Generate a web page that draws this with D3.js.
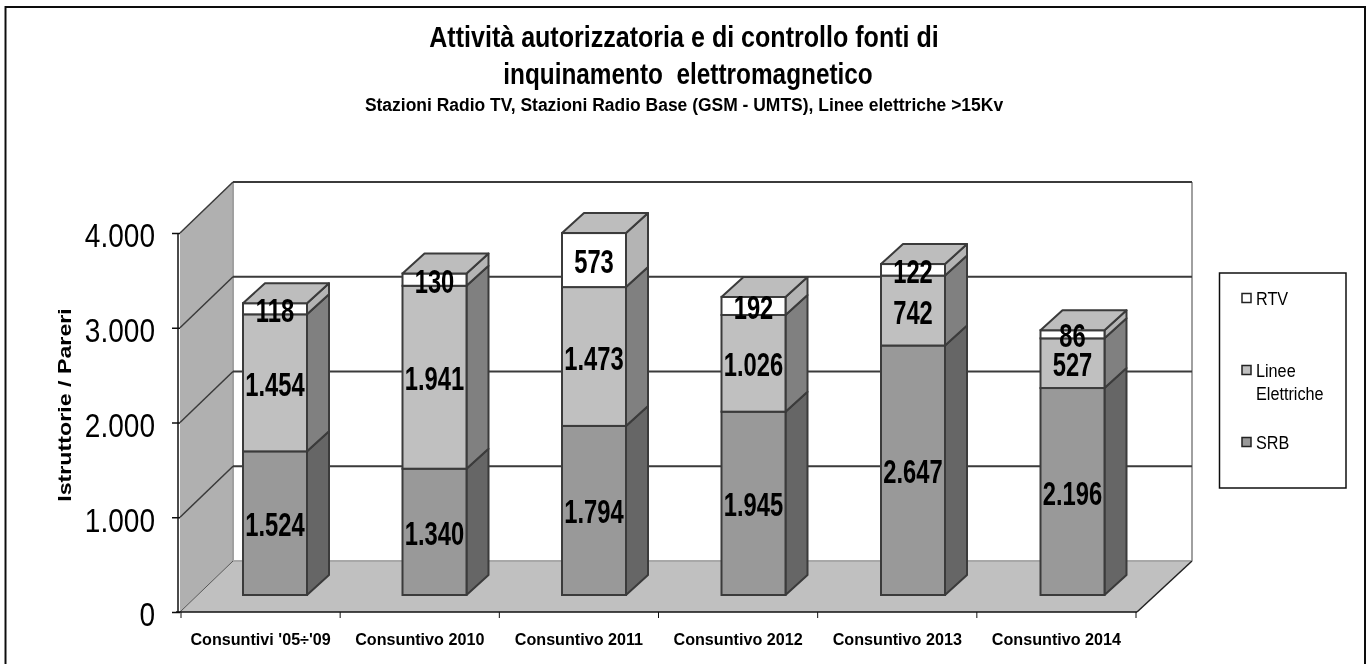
<!DOCTYPE html>
<html lang="en">
<head>
<meta charset="UTF-8">
<title>Attività autorizzatoria</title>
<script src="https://cdn.jsdelivr.net/npm/d3@7"></script>
<style>
  html, body { margin: 0; padding: 0; background: #fff; overflow: hidden; }
  text { font-family: "Liberation Sans", Arial, sans-serif; fill: #000; }
</style>
</head>
<body>
<svg id="chart" width="1370" height="664"></svg>
<script>
var categories = ["Consuntivi '05÷'09", "Consuntivo 2010", "Consuntivo 2011", "Consuntivo 2012", "Consuntivo 2013", "Consuntivo 2014"];
var srb = [1524, 1340, 1794, 1945, 2647, 2196];
var linee = [1454, 1941, 1473, 1026, 742, 527];
var rtv = [118, 130, 573, 192, 122, 86];
var yTicks = [0, 1000, 2000, 3000, 4000];
var seriesKeys = ["SRB", "Linee", "RTV"];

var rows = categories.map(function(c, i) {
    return { cat: c, SRB: srb[i], Linee: linee[i], RTV: rtv[i] };
});

var front = { SRB: "#999999", Linee: "#c0c0c0", RTV: "#ffffff" };
var side = { SRB: "#666666", Linee: "#808080", RTV: "#b4b4b4" };
var lineCol = "#3a3a3a";

var svg = d3.select("#chart");
var defs = svg.append("defs");
defs.append("filter").attr("id", "soft")
    .append("feGaussianBlur").attr("stdDeviation", 0.5);
var root = svg.append("g").attr("filter", "url(#soft)");

var fmt = d3.formatLocale({ decimal: ",", thousands: ".", grouping: [3], currency: ["", ""] }).format(",d");

// three planes: axis at the front, bars in the middle, grid on the back wall
var x = d3.scaleBand().domain(categories).range([181, 1138]);
var xAxisScale = d3.scaleBand().domain(categories).range([181, 1136]);
var yFront = d3.scaleLinear().domain([0, 4000]).range([612, 233]);
var yBar = d3.scaleLinear().domain([0, 4000]).range([595, 218]);
var yBack = d3.scaleLinear().domain([0, 4000]).range([561, 182]);
var wallX = 233, wallRight = 1192, leftX = 180, frontRight = 1137;
var barOffset = 62, barW = 64, dx = 22, dy = 20;

// squeeze text horizontally like the stretched original
function squeeze(sel, f) {
    sel.each(function() {
        var len = this.getComputedTextLength();
        d3.select(this).attr("textLength", len * f).attr("lengthAdjust", "spacingAndGlyphs");
    });
    return sel;
}

function poly(parent, pts, fill, stroke, sw) {
    return parent.append("polygon")
        .attr("points", pts.map(function(p) { return p.join(","); }).join(" "))
        .attr("fill", fill).attr("stroke", stroke || "none").attr("stroke-width", sw || 0)
        .attr("stroke-linejoin", "round");
}

// outer frame, bottom runs off the page
root.append("rect").attr("x", 5.5).attr("y", 7).attr("width", 1359.5).attr("height", 680)
    .attr("fill", "#fff").attr("stroke", "#111").attr("stroke-width", 2);

// walls and floor
poly(root, [[leftX, yFront(4000)], [wallX, yBack(4000)], [wallX, yBack(0)], [leftX, yFront(0)]], "#b0b0b0");
poly(root, [[leftX, yFront(0)], [wallX, yBack(0)], [wallRight, yBack(0)], [frontRight, yFront(0)]], "#c0c0c0");
root.append("line").attr("x1", wallX).attr("x2", wallX).attr("y1", yBack(4000)).attr("y2", yBack(0))
    .attr("stroke", "#a0a0a0").attr("stroke-width", 2);
root.append("line").attr("x1", wallRight).attr("x2", wallRight).attr("y1", yBack(4000)).attr("y2", yBack(0))
    .attr("stroke", "#a0a0a0").attr("stroke-width", 2);
root.append("line").attr("x1", wallX).attr("x2", wallRight).attr("y1", yBack(0)).attr("y2", yBack(0))
    .attr("stroke", "#a8a8a8").attr("stroke-width", 2);

// grid on the back wall and on the left wall
yTicks.filter(function(t) { return t > 0; }).forEach(function(t) {
    root.append("line").attr("x1", wallX).attr("x2", wallRight).attr("y1", yBack(t)).attr("y2", yBack(t))
        .attr("stroke", lineCol).attr("stroke-width", 2);
    root.append("line").attr("x1", leftX).attr("x2", wallX).attr("y1", yFront(t)).attr("y2", yBack(t))
        .attr("stroke", lineCol).attr("stroke-width", 1.5);
});
root.append("line").attr("x1", frontRight).attr("x2", wallRight).attr("y1", yFront(0)).attr("y2", yBack(0))
    .attr("stroke", "#222").attr("stroke-width", 1.5);
root.append("line").attr("x1", leftX).attr("x2", wallX).attr("y1", yFront(0)).attr("y2", yBack(0))
    .attr("stroke", "#555").attr("stroke-width", 1);

// stacked boxes
var stacked = d3.stack().keys(seriesKeys)(rows);
var bars = root.append("g");
rows.forEach(function(r, i) {
    var x0 = x(r.cat) + barOffset;
    stacked.forEach(function(s) {
        var y0 = yBar(s[i][0]), y1 = yBar(s[i][1]);
        poly(bars, [[x0 + barW, y0], [x0 + barW + dx, y0 - dy], [x0 + barW + dx, y1 - dy], [x0 + barW, y1]], side[s.key], lineCol, 2);
        bars.append("rect").attr("x", x0).attr("y", y1).attr("width", barW).attr("height", y0 - y1)
            .attr("fill", front[s.key]).attr("stroke", lineCol).attr("stroke-width", 2);
    });
    var top = yBar(d3.sum(stacked, function(s) { return r[s.key]; }));
    poly(bars, [[x0, top], [x0 + dx, top - dy], [x0 + barW + dx, top - dy], [x0 + barW, top]], "#bdbdbd", lineCol, 2);
});

// value labels
stacked.forEach(function(s) {
    s.forEach(function(d, i) {
        var t = root.append("text")
            .attr("x", x(categories[i]) + barOffset + barW / 2)
            .attr("y", (yBar(d[0]) + yBar(d[1])) / 2 + 13)
            .attr("text-anchor", "middle")
            .attr("font-size", 33).attr("font-weight", "bold")
            .text(fmt(d[1] - d[0]));
        squeeze(t, 0.72);
    });
});

// axes
var yAxis = root.append("g").attr("transform", "translate(" + leftX + ",0)")
    .call(d3.axisLeft(yFront).tickValues(yTicks).tickSize(8).tickPadding(17).tickFormat(fmt));
yAxis.selectAll("text").attr("font-size", 33).attr("font-family", "Liberation Sans").attr("dy", "0.42em");
squeeze(yAxis.selectAll("text"), 0.85);
yAxis.selectAll("path, line").attr("stroke", "#111").attr("stroke-width", 1.5);
yAxis.select("path").attr("d", "M-2," + yFront(4000) + "V" + yFront(0));

var xAxis = root.append("g").attr("transform", "translate(0," + yFront(0) + ")")
    .call(d3.axisBottom(xAxisScale).tickSize(0).tickPadding(21));
xAxis.selectAll("text").attr("font-size", 17).attr("font-weight", "bold").attr("font-family", "Liberation Sans");
squeeze(xAxis.selectAll("text"), 0.95);
xAxis.select("path").attr("stroke", "#111").attr("stroke-width", 1.5).attr("d", "M176,0H" + frontRight);
xAxisScale.domain().forEach(function(c) {
    xAxis.append("line").attr("x1", xAxisScale(c)).attr("x2", xAxisScale(c)).attr("y1", 0).attr("y2", 6).attr("stroke", "#111");
});
xAxis.append("line").attr("x1", xAxisScale.range()[1]).attr("x2", xAxisScale.range()[1]).attr("y1", 0).attr("y2", 6).attr("stroke", "#111");

// axis title
var yTitle = root.append("text")
    .attr("transform", "translate(71,405) rotate(-90)")
    .attr("text-anchor", "middle").attr("font-size", 18).attr("font-weight", "bold")
    .text("Istruttorie / Pareri");
squeeze(yTitle, 1.29);

// titles
var t1 = root.append("text").attr("x", 684).attr("y", 47).attr("text-anchor", "middle")
    .attr("font-size", 29).attr("font-weight", "bold")
    .text("Attività autorizzatoria e di controllo fonti di");
squeeze(t1, 0.864);
var t2 = root.append("text").attr("x", 688).attr("y", 84).attr("text-anchor", "middle")
    .attr("font-size", 29).attr("font-weight", "bold")
    .text("inquinamento  elettromagnetico").attr("xml:space", "preserve");
squeeze(t2, 0.84);
var t3 = root.append("text").attr("x", 684).attr("y", 111).attr("text-anchor", "middle")
    .attr("font-size", 18).attr("font-weight", "bold")
    .text("Stazioni Radio TV, Stazioni Radio Base (GSM - UMTS), Linee elettriche >15Kv");
squeeze(t3, 0.97);

// legend
var legendNames = [["RTV"], ["Linee", "Elettriche"], ["SRB"]];
var legendKeys = ["RTV", "Linee", "SRB"];
var legendY = d3.scalePoint().domain(legendKeys).range([298, 442]);
var legend = root.append("g");
legend.append("rect").attr("x", 1219.5).attr("y", 273).attr("width", 126.5).attr("height", 215)
    .attr("fill", "#fff").attr("stroke", "#111").attr("stroke-width", 1.5);
legendKeys.forEach(function(k, i) {
    legend.append("rect").attr("x", 1242).attr("y", legendY(k) - 4.5).attr("width", 9).attr("height", 9)
        .attr("fill", front[k]).attr("stroke", "#222").attr("stroke-width", 1.5);
    legendNames[i].forEach(function(n, j) {
        var t = legend.append("text").attr("x", 1256).attr("y", legendY(k) + 7 + j * 23)
            .attr("font-size", 18).text(n);
        squeeze(t, 0.9);
    });
});
</script>
</body>
</html>
